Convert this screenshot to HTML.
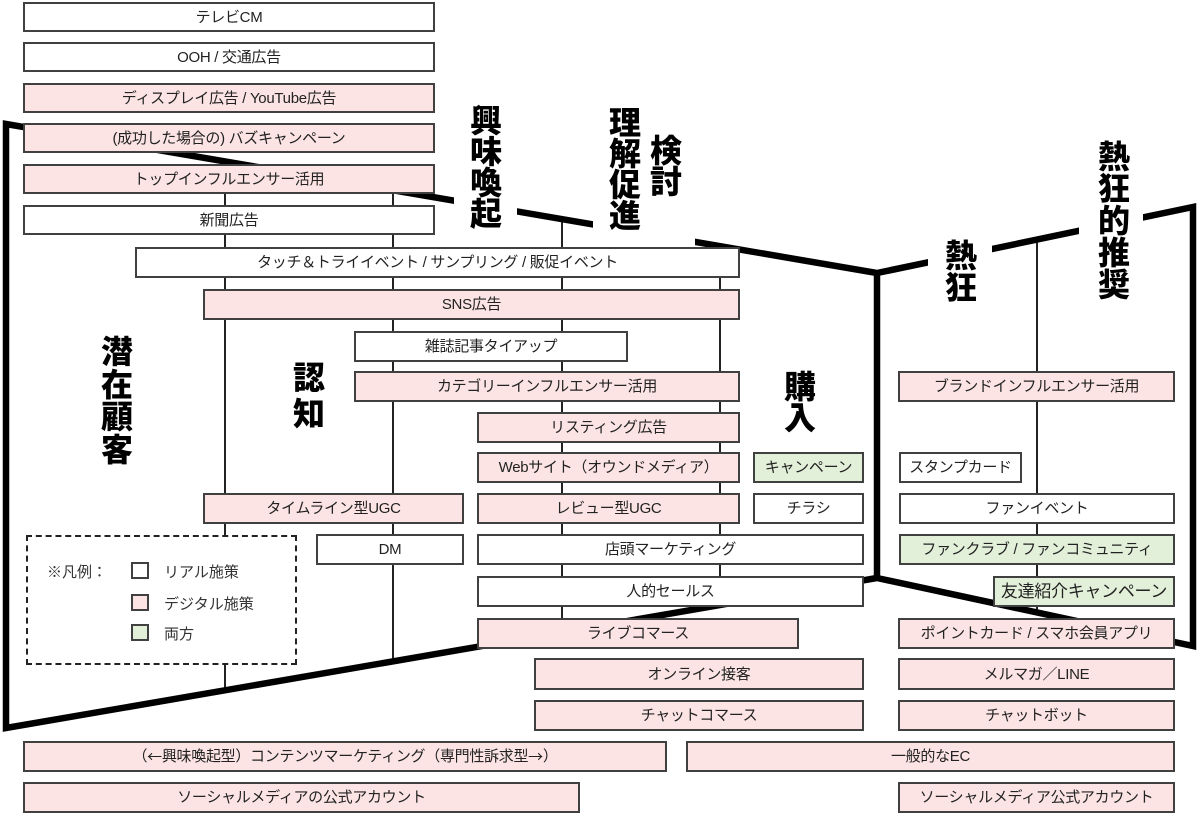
<!DOCTYPE html>
<html lang="ja">
<head>
<meta charset="utf-8">
<style>
html,body{margin:0;padding:0;background:#fff;}
#c{position:relative;width:1200px;height:820px;overflow:hidden;background:#fff;
  font-family:"Liberation Sans","Noto Sans CJK JP",sans-serif;}
svg{position:absolute;left:0;top:0;}
.b{position:absolute;box-sizing:border-box;border:2px solid #404040;display:flex;align-items:center;justify-content:center;
  font-size:15px;color:#222;white-space:nowrap;letter-spacing:-0.3px;line-height:1;}
.w{background:#fff;}
.p{background:#fce4e4;}
.g{background:#e2efd9;}
.cjk{font-family:"Noto Sans CJK JP",sans-serif;}
.lab{position:absolute;font-family:"Noto Sans CJK JP","Liberation Sans",sans-serif;font-weight:900;font-size:32px;color:#000;
  text-align:center;background:#fff;}
#legend{position:absolute;left:26px;top:535px;width:271px;height:130px;box-sizing:border-box;border:2px dashed #222;background:#fff;}
.lg{position:absolute;font-size:15px;color:#333;white-space:nowrap;}
.sq{position:absolute;width:18px;height:17px;box-sizing:border-box;border:2px solid #404040;}
</style>
</head>
<body>
<div id="c">
<svg width="1200" height="820" viewBox="0 0 1200 820">
  <g stroke="#222" stroke-width="2" fill="none">
    <line x1="225" y1="161" x2="225" y2="690"/>
    <line x1="393" y1="190" x2="393" y2="661"/>
    <line x1="562" y1="219" x2="562" y2="632"/>
    <line x1="720" y1="246" x2="720" y2="604"/>
    <line x1="1037" y1="240" x2="1037" y2="612"/>
  </g>
  <path d="M6,124 L877,273 L877,578 L6,728 Z M877,273 L1193,207 L1193,646 L877,578"
        stroke="#000" stroke-width="6.5" fill="none" stroke-linejoin="miter"/>
</svg>

<!-- stage labels -->
<div class="lab" style="left:98px;top:334px;width:38px;line-height:32.5px;">潜<br>在<br>顧<br>客</div>
<div class="lab" style="left:290px;top:358px;width:38px;line-height:36px;">認<br>知</div>
<div class="lab" style="left:454px;top:100px;width:63px;height:135px;"><div style="position:absolute;left:15px;top:4px;width:34px;line-height:31px;">興<br>味<br>喚<br>起</div></div>
<div class="lab" style="left:593px;top:100px;width:102px;height:152px;">
  <div style="position:absolute;left:15px;top:6px;width:34px;line-height:31px;">理<br>解<br>促<br>進</div>
  <div style="position:absolute;left:56px;top:34px;width:34px;line-height:31px;">検<br>討</div>
</div>
<div class="lab" style="left:782px;top:370px;width:36px;line-height:31px;">購<br>入</div>
<div class="lab" style="left:928px;top:232px;width:64px;height:75px;"><div style="position:absolute;left:16px;top:6px;width:34px;line-height:32px;">熱<br>狂</div></div>
<div class="lab" style="left:1079px;top:134px;width:64px;height:170px;"><div style="position:absolute;left:18px;top:5px;width:34px;line-height:32px;">熱<br>狂<br>的<br>推<br>奨</div></div>

<!-- boxes -->
<div class="b w" style="left:23px;top:2px;width:412px;height:30px;">テレビCM</div>
<div class="b w" style="left:23px;top:42px;width:412px;height:30px;">OOH / 交通広告</div>
<div class="b p" style="left:23px;top:83px;width:412px;height:30px;">ディスプレイ広告 / YouTube広告</div>
<div class="b p" style="left:23px;top:123px;width:412px;height:30px;">(成功した場合の) バズキャンペーン</div>
<div class="b p" style="left:23px;top:164px;width:412px;height:30px;">トップインフルエンサー活用</div>
<div class="b w" style="left:23px;top:205px;width:412px;height:30px;">新聞広告</div>
<div class="b w" style="left:135px;top:247px;width:605px;height:31px;">タッチ＆トライイベント / サンプリング / 販促イベント</div>
<div class="b p" style="left:203px;top:289px;width:537px;height:31px;">SNS広告</div>
<div class="b w" style="left:354px;top:331px;width:274px;height:31px;">雑誌記事タイアップ</div>
<div class="b p" style="left:354px;top:371px;width:386px;height:31px;">カテゴリーインフルエンサー活用</div>
<div class="b p" style="left:898px;top:371px;width:277px;height:31px;">ブランドインフルエンサー活用</div>
<div class="b p" style="left:477px;top:412px;width:263px;height:31px;">リスティング広告</div>
<div class="b p" style="left:477px;top:452px;width:263px;height:31px;">Webサイト（オウンドメディア）</div>
<div class="b g" style="left:753px;top:452px;width:111px;height:31px;">キャンペーン</div>
<div class="b w" style="left:899px;top:452px;width:123px;height:31px;">スタンプカード</div>
<div class="b p" style="left:203px;top:493px;width:261px;height:31px;">タイムライン型UGC</div>
<div class="b p" style="left:477px;top:493px;width:263px;height:31px;">レビュー型UGC</div>
<div class="b w" style="left:753px;top:493px;width:111px;height:31px;">チラシ</div>
<div class="b w" style="left:899px;top:493px;width:276px;height:31px;">ファンイベント</div>
<div class="b w" style="left:316px;top:534px;width:148px;height:31px;">DM</div>
<div class="b w" style="left:477px;top:534px;width:387px;height:31px;">店頭マーケティング</div>
<div class="b g" style="left:899px;top:534px;width:276px;height:31px;">ファンクラブ / ファンコミュニティ</div>
<div class="b w" style="left:477px;top:576px;width:387px;height:31px;">人的セールス</div>
<div class="b g" style="left:993px;top:576px;width:182px;height:31px;font-size:17px;">友達紹介キャンペーン</div>
<div class="b p" style="left:477px;top:618px;width:322px;height:31px;">ライブコマース</div>
<div class="b p" style="left:898px;top:618px;width:277px;height:31px;">ポイントカード / スマホ会員アプリ</div>
<div class="b p" style="left:534px;top:658px;width:330px;height:32px;">オンライン接客</div>
<div class="b p" style="left:898px;top:658px;width:277px;height:32px;">メルマガ／LINE</div>
<div class="b p" style="left:534px;top:700px;width:330px;height:31px;">チャットコマース</div>
<div class="b p" style="left:898px;top:700px;width:277px;height:31px;">チャットボット</div>
<div class="b p" style="left:23px;top:741px;width:644px;height:31px;">（<span class="cjk">←</span>興味喚起型）コンテンツマーケティング（専門性訴求型<span class="cjk">→</span>）</div>
<div class="b p" style="left:686px;top:741px;width:489px;height:31px;">一般的なEC</div>
<div class="b p" style="left:23px;top:782px;width:557px;height:31px;">ソーシャルメディアの公式アカウント</div>
<div class="b p" style="left:898px;top:782px;width:277px;height:31px;">ソーシャルメディア公式アカウント</div>

<!-- legend -->
<div id="legend"></div>
<div class="lg" style="left:47px;top:561px;">※凡例：</div>
<div class="sq w" style="left:131px;top:562px;"></div>
<div class="lg" style="left:164px;top:561px;">リアル施策</div>
<div class="sq p" style="left:131px;top:594px;"></div>
<div class="lg" style="left:164px;top:593px;">デジタル施策</div>
<div class="sq g" style="left:131px;top:624px;"></div>
<div class="lg" style="left:164px;top:623px;">両方</div>
</div>
</body>
</html>
